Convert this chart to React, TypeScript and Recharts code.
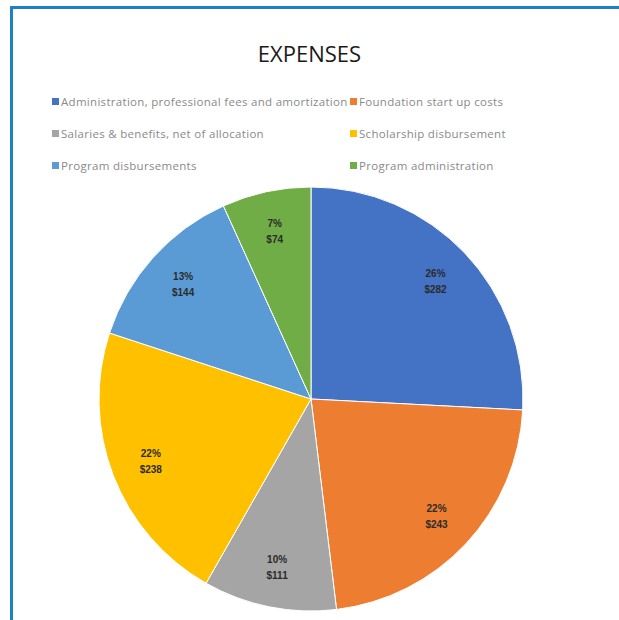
import { Cell, Pie, PieChart } from 'recharts';

const categories = [
    "Administration, professional fees and amortization",
    "Foundation start up costs",
    "Salaries & benefits, net of allocation",
    "Scholarship disbursement",
    "Program disbursements",
    "Program administration",
];
const amounts = [282, 243, 111, 238, 144, 74];
const colors = ["#4472C4", "#ED7D31", "#A5A5A5", "#FFC000", "#5B9BD5", "#70AD47"];

const data = categories.map((name, i) => ({ name, value: amounts[i] }));

const RADIAN = Math.PI / 180;

const renderLabel = (props: any) => {
    const { cx, cy, midAngle, outerRadius, percent, value } = props;
    const r = outerRadius * 0.81;
    const x = cx + r * Math.cos(-midAngle * RADIAN);
    const y = cy + r * Math.sin(-midAngle * RADIAN);
    return <text x={x} y={y} textAnchor="middle" fill="#2b2b2b" fontSize={10} fontWeight="bold" fontFamily="'Liberation Sans', Arial, sans-serif">
        <tspan x={x} dy={-4}>{Math.round(percent * 100)}%</tspan>
        <tspan x={x} dy={16}>${value}</tspan>
    </text>
}

const ChartLegend = () => (
    <div style={{ position: "absolute", left: 52, top: 94, display: "grid", gridTemplateColumns: "298px 240px", rowGap: 18, fontFamily: "'Open Sans', sans-serif", fontSize: 11.5, letterSpacing: 0.3, color: "#8a8a8a" }}>
        {categories.map((c, i) => (
            <div key={c} style={{ display: "flex", alignItems: "center", whiteSpace: "nowrap", height: 14 }}>
                <span style={{ width: 7, height: 7, background: colors[i], marginRight: 2, display: "inline-block" }} />
                {c}
            </div>
        ))}
    </div>
);

export default function App() {
    return <div style={{ position: "absolute", left: 0, top: 0, width: 619, height: 620, background: "#fff", overflow: "hidden" }}>
        <div style={{ position: "absolute", left: 10, top: 6, width: 609, height: 3, background: "#1f80c6" }} />
        <div style={{ position: "absolute", left: 10, top: 6, width: 3, height: 614, background: "#1f80c6" }} />
        <div style={{ position: "absolute", left: 0, top: 38, width: 619, textAlign: "center", fontFamily: "'Open Sans', sans-serif", fontSize: 22, color: "#1a1a1a" }}>
            EXPENSES
        </div>
        <ChartLegend />
        <div style={{ position: "absolute", left: 0, top: 0 }}>
            <PieChart width={619} height={620}>
                <Pie data={data} dataKey="value" nameKey="name" cx={306} cy={394} outerRadius={212}
                    startAngle={90} endAngle={-270} stroke="#fff" strokeWidth={1}
                    label={renderLabel} labelLine={false} isAnimationActive={false}>
                    {data.map((d, i) => <Cell key={d.name} fill={colors[i]} />)}
                </Pie>
            </PieChart>
        </div>
    </div>
}
